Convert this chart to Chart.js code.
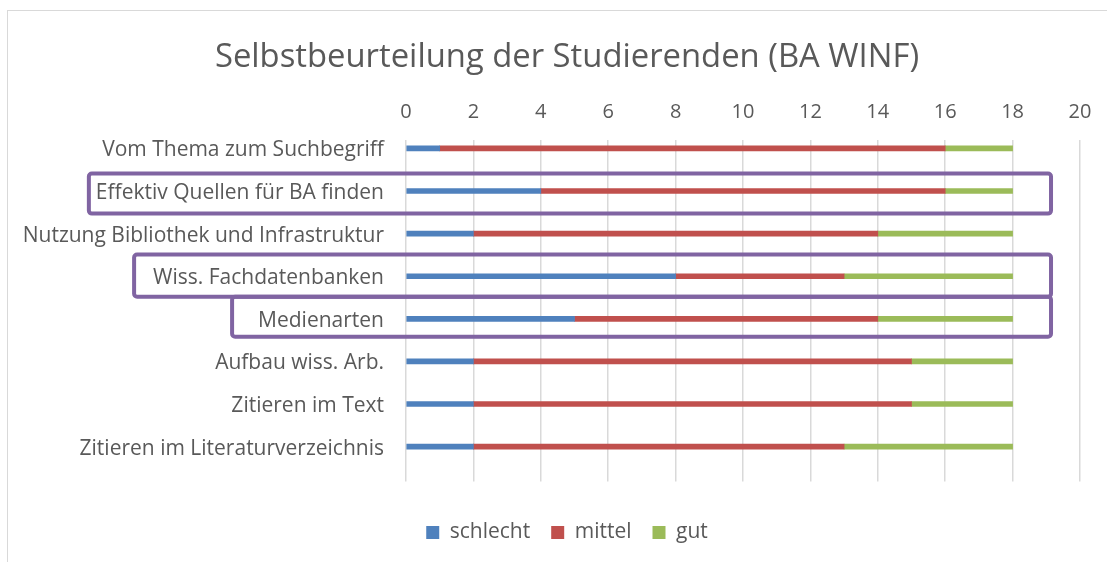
<!DOCTYPE html>
<html>
<head>
<meta charset="utf-8">
<script src="https://cdn.jsdelivr.net/npm/chart.js@4.4.1/dist/chart.umd.min.js"></script>
<style>
    html, body { margin: 0; background: #fff; overflow: hidden; }
    #frame { position: absolute; left: 7px; top: 10px; width: 1102px; height: 560px; border: 1px solid #d9d9d9; }
</style>
</head>
<body>
<div id="frame"><canvas id="selfChart"></canvas></div>
<script>
// Selbstbeurteilung der Studierenden - gestapelte Balken

const categories = [
    'Vom Thema zum Suchbegriff',
    'Effektiv Quellen für BA finden',
    'Nutzung Bibliothek und Infrastruktur',
    'Wiss. Fachdatenbanken',
    'Medienarten',
    'Aufbau wiss. Arb.',
    'Zitieren im Text',
    'Zitieren im Literaturverzeichnis'
];
const schlecht = [1, 4, 2, 8, 5, 2, 2, 2];
const mittel = [15, 12, 12, 5, 9, 13, 13, 11];
const gut = [2, 2, 4, 5, 4, 3, 3, 5];

const xMin = 0;
const xMax = 20;
const xStep = 2;

// highlighted rows (purple frames around the labels)
const highlights = [
    { from: 0.59, to: 1.53, pad: 7 },
    { from: 2.49, to: 3.48, pad: 19 },
    { from: 3.48, to: 4.42, pad: 26 }
];
const highlightEnd = 19.14;

const textColor = '#595959';
const fontFamily = "'Open Sans', 'Noto Sans', sans-serif";
const labelSize = 21;
const labelPadding = 22;

const toPoints = values => values.map((v, i) => ({ x: v, y: i }));

const highlightPlugin = {
    id: 'highlightFrames',
    afterDraw(chart) {
        const ctx = chart.ctx;
        const xs = chart.scales.x;
        const ys = chart.scales.y;
        ctx.save();
        ctx.font = labelSize + 'px ' + fontFamily;
        ctx.strokeStyle = '#8064A2';
        ctx.lineWidth = 4;
        ctx.lineJoin = 'round';
        highlights.forEach(h => {
            const row = Math.round((h.from + h.to) / 2);
            const textW = ctx.measureText(categories[row]).width;
            const left = ys.right - labelPadding - textW - h.pad;
            const right = xs.getPixelForValue(highlightEnd);
            const top = ys.getPixelForValue(h.from);
            const bottom = ys.getPixelForValue(h.to);
            ctx.beginPath();
            ctx.roundRect(left, top, right - left, bottom - top, 3);
            ctx.stroke();
        });
        ctx.restore();
    }
};

const barSet = (label, values, color) => ({
    label: label,
    data: toPoints(values),
    backgroundColor: color,
    borderWidth: 0,
    barThickness: 5
});

// empty axes only used as spacers
const spacer = (axis, position, size) => ({
    type: 'linear',
    axis: axis,
    position: position,
    display: true,
    afterFit: s => { if (axis === 'x') s.height = size; else s.width = size; },
    ticks: { display: false },
    grid: { display: false, drawTicks: false },
    border: { display: false }
});

new Chart(document.getElementById('selfChart'), {
    type: 'bar',
    data: {
        datasets: [
            barSet('schlecht', schlecht, '#4F81BD'),
            barSet('mittel', mittel, '#C0504D'),
            barSet('gut', gut, '#9BBB59')
        ]
    },
    options: {
        indexAxis: 'y',
        responsive: true,
        maintainAspectRatio: false,
        animation: false,
        layout: { padding: { left: 16, right: 0, top: 0, bottom: 18 } },
        plugins: {
            title: {
                display: true,
                text: 'Selbstbeurteilung der Studierenden (BA WINF)',
                color: textColor,
                font: { family: fontFamily, size: 32.8, weight: 'normal' },
                padding: { top: 26.5, bottom: 0 }
            },
            legend: {
                position: 'bottom',
                labels: {
                    color: textColor,
                    font: { family: fontFamily, size: labelSize },
                    boxWidth: 13,
                    boxHeight: 13,
                    padding: 21
                }
            },
            tooltip: { enabled: false }
        },
        scales: {
            x: {
                type: 'linear',
                position: 'top',
                stacked: true,
                min: xMin,
                max: xMax,
                afterFit: s => { s.height = 63.5; },
                ticks: {
                    stepSize: xStep,
                    color: textColor,
                    padding: 16,
                    font: { family: fontFamily, size: 20 }
                },
                grid: { color: '#d9d9d9', lineWidth: 1.5, drawTicks: false },
                border: { display: false }
            },
            y: {
                type: 'linear',
                reverse: true,
                stacked: true,
                offset: false,
                bounds: 'data',
                min: -0.19,
                max: 7.82,
                afterFit: s => { s.width = 382; s.paddingTop = 0; s.paddingBottom = 0; },
                afterBuildTicks: s => { s.ticks = categories.map((c, i) => ({ value: i })); },
                ticks: {
                    autoSkip: false,
                    color: textColor,
                    padding: labelPadding,
                    labelOffset: 2,
                    font: { family: fontFamily, size: labelSize },
                    callback: v => categories[Math.round(v)]
                },
                grid: { display: false, drawTicks: false },
                border: { display: false }
            },
            gapBottom: spacer('x', 'bottom', 19.5),
            gapRight: spacer('y', 'right', 30)
        }
    },
    plugins: [highlightPlugin]
});
</script>
</body>
</html>
